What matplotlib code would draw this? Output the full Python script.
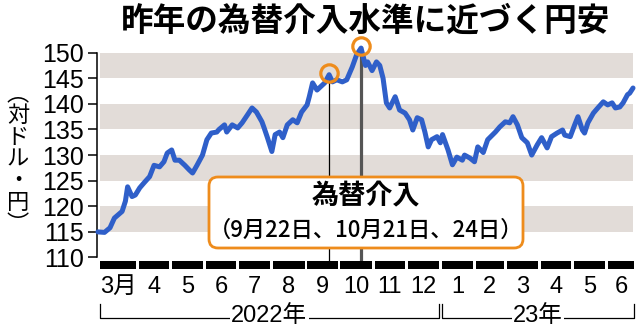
import matplotlib
matplotlib.use("Agg")
import matplotlib.pyplot as plt
import pandas as pd
from matplotlib import font_manager
from matplotlib.patches import FancyBboxPatch
from matplotlib.transforms import IdentityTransform

# USD/JPY
dates = [
    "2022-02-24", "2022-03-02", "2022-03-07", "2022-03-11", "2022-03-18", "2022-03-21",
    "2022-03-23", "2022-03-27", "2022-03-30", "2022-04-03", "2022-04-07", "2022-04-12",
    "2022-04-16", "2022-04-21", "2022-04-25", "2022-04-28", "2022-05-02", "2022-05-05",
    "2022-05-09", "2022-05-14", "2022-05-18", "2022-05-21", "2022-05-25", "2022-05-30",
    "2022-06-03", "2022-06-07", "2022-06-12", "2022-06-14", "2022-06-19", "2022-06-21",
    "2022-06-26", "2022-07-01", "2022-07-05", "2022-07-10", "2022-07-14", "2022-07-18",
    "2022-07-23", "2022-07-25", "2022-07-28", "2022-08-01", "2022-08-04", "2022-08-08",
    "2022-08-11", "2022-08-15", "2022-08-20", "2022-08-24", "2022-08-28", "2022-09-02",
    "2022-09-04", "2022-09-07", "2022-09-11", "2022-09-14", "2022-09-18", "2022-09-22",
    "2022-09-25", "2022-09-29", "2022-10-04", "2022-10-08", "2022-10-13", "2022-10-17",
    "2022-10-21", "2022-10-25", "2022-10-27", "2022-10-31", "2022-11-04", "2022-11-07",
    "2022-11-10", "2022-11-13", "2022-11-16", "2022-11-21", "2022-11-25", "2022-11-30",
    "2022-12-04", "2022-12-07", "2022-12-11", "2022-12-15", "2022-12-18", "2022-12-21",
    "2022-12-24", "2022-12-29", "2023-01-01", "2023-01-03", "2023-01-08", "2023-01-12",
    "2023-01-16", "2023-01-21", "2023-01-23", "2023-01-28", "2023-02-01", "2023-02-04",
    "2023-02-09", "2023-02-13", "2023-02-20", "2023-02-24", "2023-03-01", "2023-03-05",
    "2023-03-08", "2023-03-12", "2023-03-16", "2023-03-21", "2023-03-25", "2023-03-30",
    "2023-04-03", "2023-04-08", "2023-04-12", "2023-04-17", "2023-04-22", "2023-04-24",
    "2023-04-29", "2023-05-03", "2023-05-06", "2023-05-10", "2023-05-12", "2023-05-15",
    "2023-05-20", "2023-05-24", "2023-05-29", "2023-06-02", "2023-06-06", "2023-06-09",
    "2023-06-13", "2023-06-16", "2023-06-20", "2023-06-22", "2023-06-25",
]
rates = [
    115.0, 114.9, 115.8, 117.7, 119.0, 121.0,
    123.8, 121.9, 122.2, 123.6, 124.6, 125.8,
    128.0, 127.7, 128.7, 130.4, 131.0, 129.0,
    129.0, 128.0, 127.1, 126.5, 128.0, 130.0,
    133.0, 134.3, 134.5, 135.0, 135.9, 134.5,
    135.9, 135.3, 136.3, 137.9, 139.2, 138.4,
    136.5, 135.3, 133.4, 130.7, 134.0, 134.5,
    133.4, 135.9, 136.9, 136.3, 138.4, 139.8,
    141.4, 144.1, 142.7, 143.3, 144.1, 145.7,
    144.3, 144.7, 144.3, 144.7, 147.2, 149.6,
    150.9, 147.5, 148.2, 146.5, 148.2, 147.5,
    145.0, 140.2, 139.2, 141.4, 138.8, 138.2,
    136.9, 134.9, 137.3, 136.9, 134.5, 131.6,
    133.0, 133.6, 132.4, 134.0, 131.0, 128.1,
    129.6, 129.0, 130.0, 129.4, 128.7, 131.6,
    130.5, 133.0, 134.5, 135.5, 136.5, 136.3,
    137.5, 135.9, 133.4, 132.4, 130.0, 132.0,
    133.4, 131.4, 133.6, 134.3, 134.9, 133.9,
    133.6, 135.9, 137.5, 134.9, 134.3, 136.3,
    138.2, 139.2, 140.4, 139.8, 140.2, 139.2,
    139.4, 140.2, 141.8, 142.1, 143.1,
]
intervention_dates = ["2022-09-22", "2022-10-21"]
month_labels = ["3月", "4", "5", "6", "7", "8", "9", "10", "11", "12",
                "1", "2", "3", "4", "5", "6"]
year_labels = ["2022年", "23年"]
year_months = [10, 6]
yticks = [110, 115, 120, 125, 130, 135, 140, 145, 150]
bands = [115, 125, 135, 145]
unit_chars = ["︵", "対", "ド", "ル", "・", "円", "︶"]

BLUE = "#2f5fc9"
ORANGE = "#ee8c1c"
BAND = "#e2dcd8"

names = {f.name for f in font_manager.fontManager.ttflist}
num_font = "Liberation Sans" if "Liberation Sans" in names else "DejaVu Sans"
jp_font = "Noto Sans CJK JP"
plt.rcParams["font.family"] = [num_font, jp_font, "DejaVu Sans"]

t = pd.to_datetime(dates)
base = pd.Timestamp("2022-03-01")
x0 = base + pd.Timedelta(days=-5.8)
x1 = base + pd.Timedelta(days=482.8)

fig = plt.figure(figsize=(6.4, 3.31), dpi=100)
ax = fig.add_axes([97 / 640, 60 / 331, 538 / 640, 226 / 331])
ax.set_xlim(x0, x1)
ax.set_ylim(107.36, 151.5)

for b in bands:
    ax.axhspan(b, b + 5, xmin=0.006, xmax=0.996, color=BAND, lw=0, zorder=0)

# intervention markers
for i, d in enumerate(intervention_dates):
    v = rates[dates.index(d)]
    if i == 0:
        ax.plot([pd.Timestamp(d)] * 2, [109.4, v], color="black", lw=0.9, zorder=2)
    else:
        ax.plot([pd.Timestamp(d)] * 2, [109.4, v], color="#555555", lw=2.3, zorder=2)
    ax.plot(pd.Timestamp(d), v + 0.4, "o", ms=12.5, mfc="none", mec=ORANGE, mew=2.3,
            zorder=4, clip_on=False)

ax.plot(t, rates, color=BLUE, lw=3.6, solid_joinstyle="round", solid_capstyle="round",
        zorder=3, clip_on=False)

# month bars + labels
starts = pd.date_range("2022-03-01", periods=len(month_labels) + 1, freq="MS")
gap = pd.Timedelta(days=1.3)
for i, lab in enumerate(month_labels):
    a = starts[i] + gap if i > 0 else base + pd.Timedelta(days=-3.1)
    b = starts[i + 1] - gap if i < len(month_labels) - 1 else base + pd.Timedelta(days=482)
    ax.fill_between([a, b], 107.75, 109.3, color="black", lw=0, clip_on=False, zorder=3)
    mid = a + (b - a) / 2
    if i == 0:
        ax.text(a, 104.3, lab, ha="left", va="center", fontsize=17, clip_on=False)
    else:
        ax.text(mid, 104.3, lab, ha="center", va="center", fontsize=17, clip_on=False)

# year brackets
k = 0
for lab, n in zip(year_labels, year_months):
    a = starts[k] + gap if k > 0 else base + pd.Timedelta(days=-3.1)
    b = starts[k + n] - gap if k + n < len(month_labels) else base + pd.Timedelta(days=482)
    ax.plot([a, a, b, b], [101.0, 98.1, 98.1, 101.0], color="black", lw=0.9, clip_on=False)
    mid = a + (b - a) / 2
    ax.text(mid, 98.5, lab, ha="center", va="center", fontsize=17, clip_on=False,
            bbox=dict(facecolor="white", edgecolor="none", pad=1))
    k += n

ax.set_xticks([])
ax.set_yticks(yticks)
ax.set_yticklabels([str(v) for v in yticks], fontsize=18)
ax.tick_params(axis="y", length=6.5, width=1.1, pad=3)
for s in ["top", "right", "bottom"]:
    ax.spines[s].set_visible(False)
ax.spines["left"].set_bounds(110, 150)
ax.spines["left"].set_linewidth(1.1)

# vertical unit label, one glyph per line
fig.text(18 / 640, 1 - 159 / 331, "\n".join(unit_chars), ha="center", va="center",
         fontsize=16, family=[jp_font], linespacing=0.93, multialignment="center")

fig.text(366 / 640, 1 - 21 / 331, "昨年の為替介入水準に近づく円安", ha="center", va="center",
         fontsize=23.5, family=[jp_font], weight="bold")

box = FancyBboxPatch((209, 331 - 248), 314, 71, boxstyle="round,pad=0,rounding_size=9",
                     transform=IdentityTransform(), facecolor="white", edgecolor=ORANGE,
                     lw=2.0, zorder=5)
fig.add_artist(box)
fig.text(366 / 640, 1 - 196 / 331, "為替介入", ha="center", va="center",
         fontsize=19.5, family=[jp_font], weight="bold", zorder=6)
fig.text(366 / 640, 1 - 230 / 331, "（9月22日、10月21日、24日）", ha="center", va="center",
         fontsize=16, family=[jp_font], weight="medium", zorder=6)

fig.savefig("out.png", dpi=100)
